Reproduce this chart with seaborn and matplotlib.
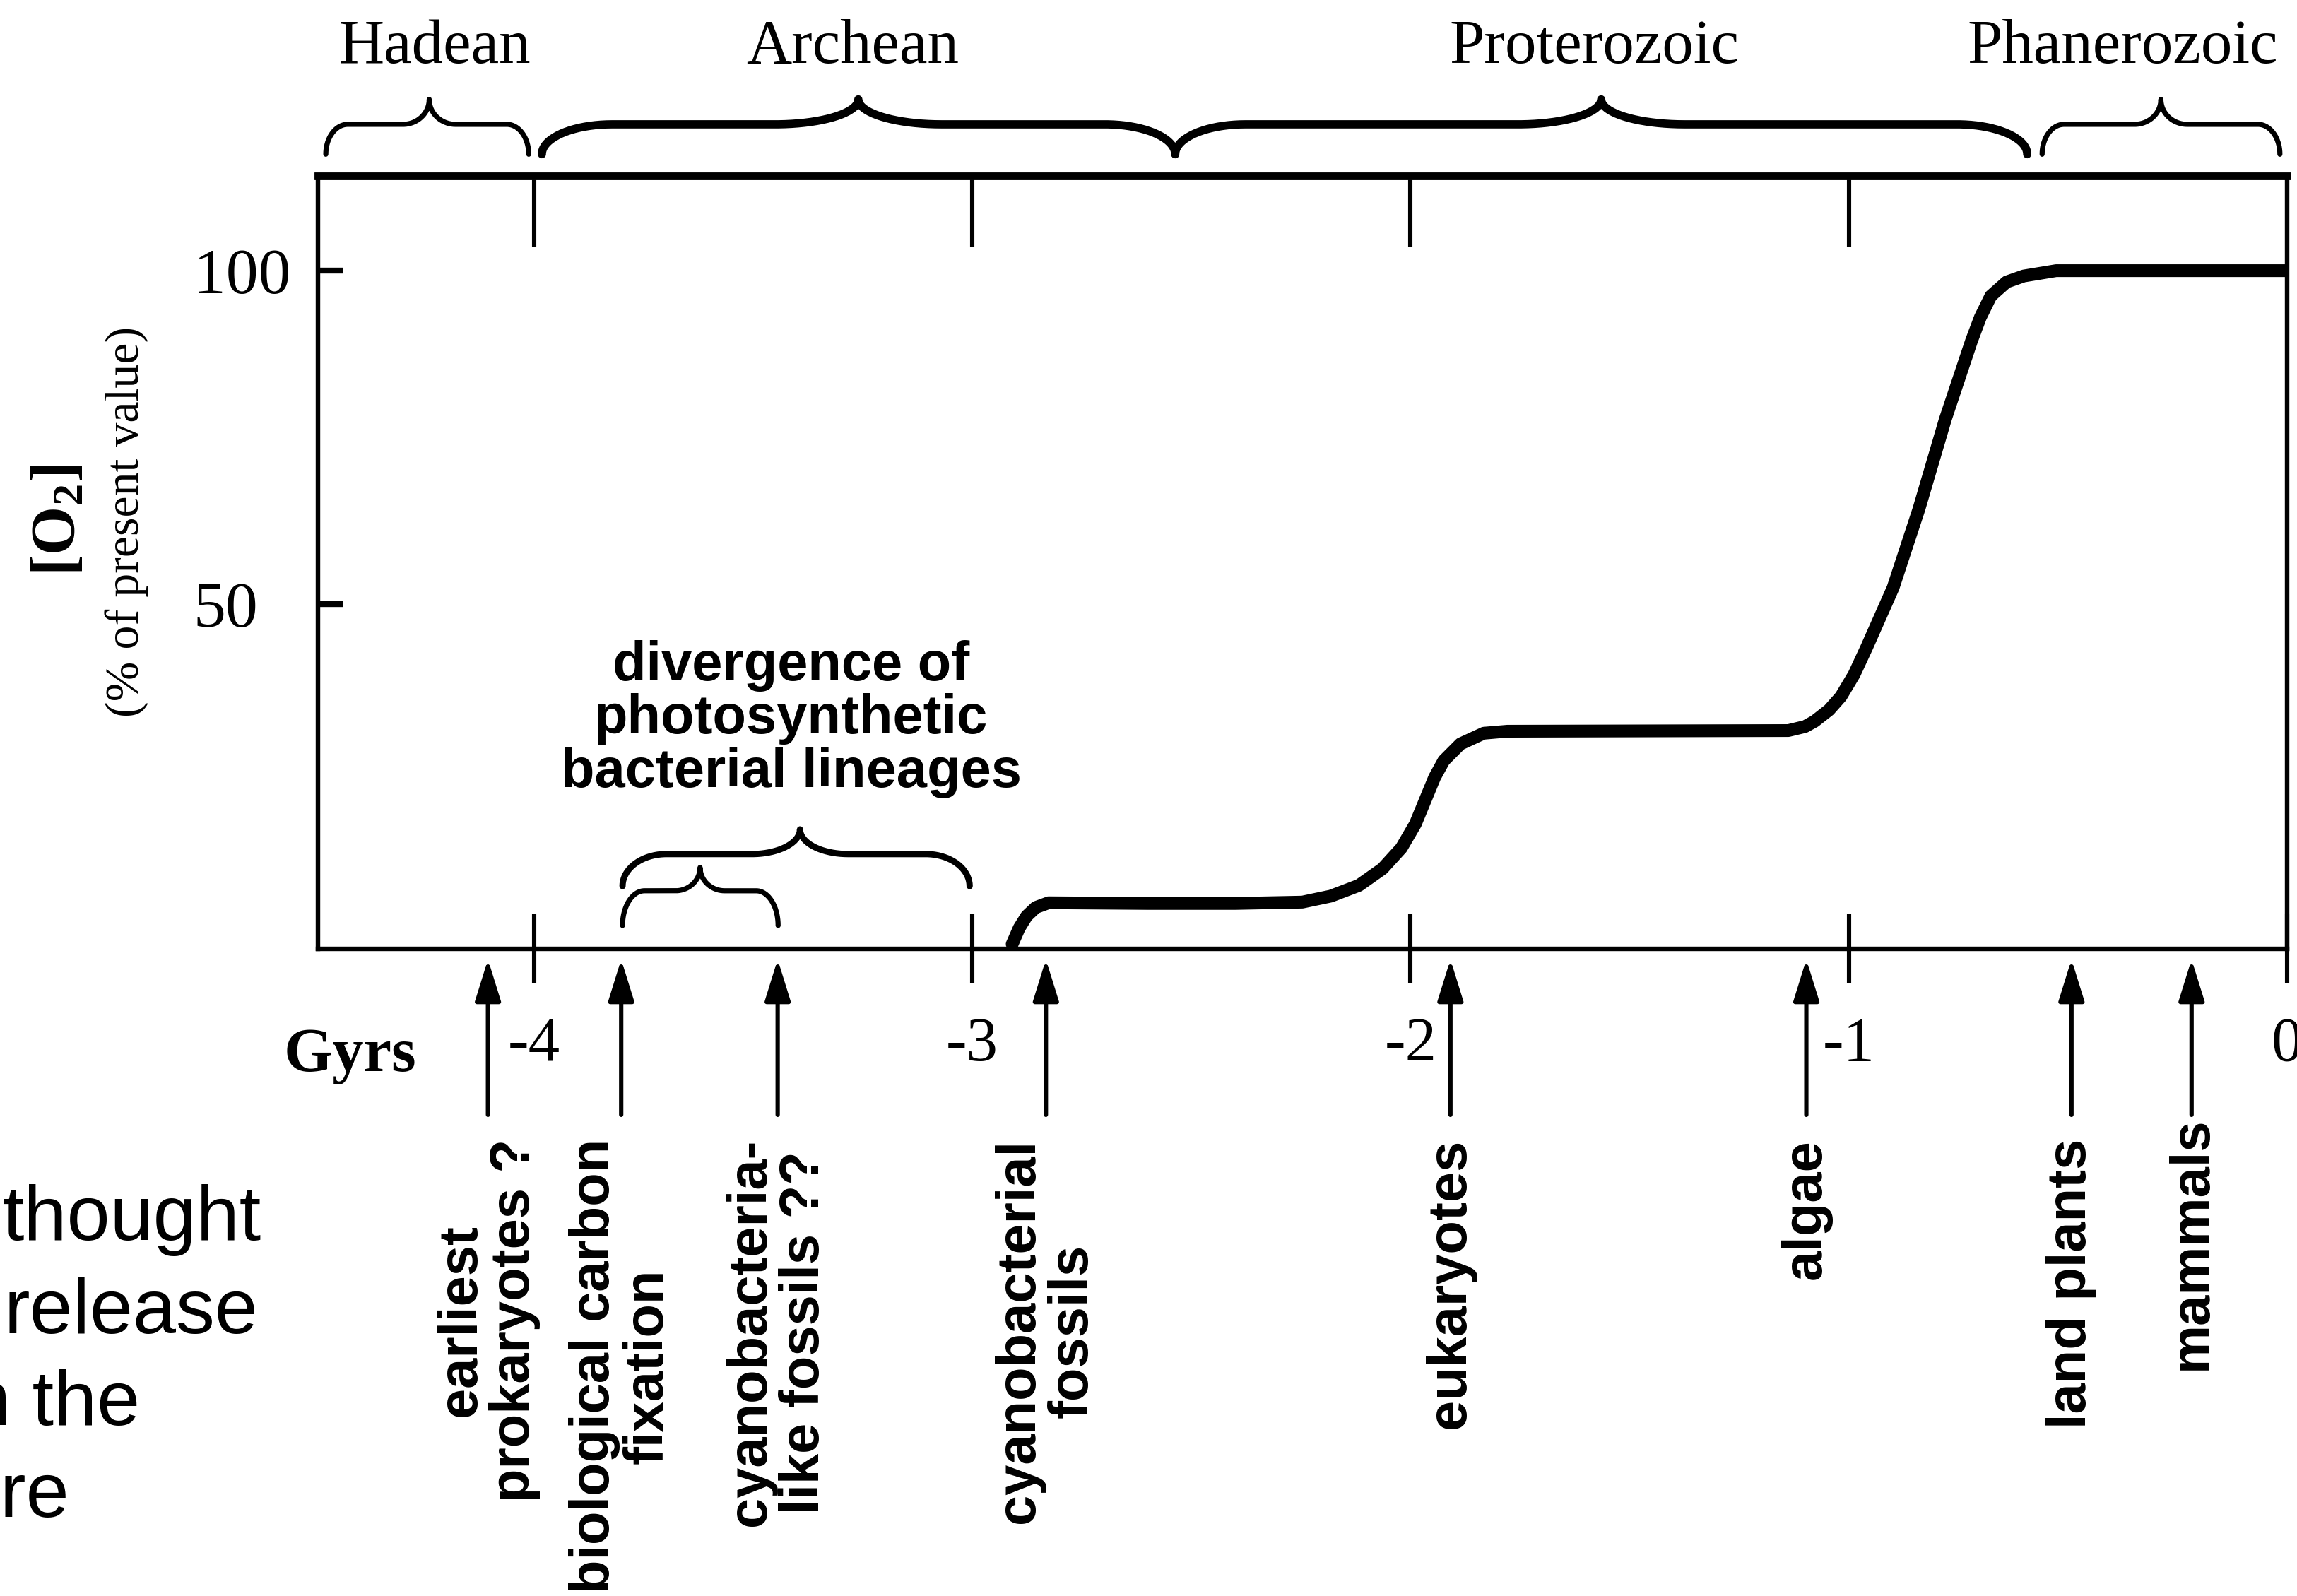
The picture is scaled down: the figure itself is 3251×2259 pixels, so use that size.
import numpy as np
import pandas as pd
import matplotlib
matplotlib.use("Agg")
import matplotlib.pyplot as plt
import matplotlib.transforms as mtransforms
import seaborn as sns

# O2 curve (Gyr before present, % of present value)
gyr = [-2.909, -2.893, -2.876, -2.855, -2.826, -2.6, -2.4, -2.247, -2.182, -2.118,
       -2.064, -2.021, -1.989, -1.967, -1.945, -1.924, -1.886, -1.833, -1.779,
       -1.138, -1.10, -1.078, -1.045, -1.018, -0.988, -0.959, -0.899, -0.840,
       -0.780, -0.720, -0.700, -0.676, -0.64, -0.601, -0.527, 0.0]
o2 = [-0.9, 1.5, 3.3, 4.6, 5.3, 5.2, 5.2, 5.4, 6.3, 7.9,
      10.4, 13.5, 17.1, 20.6, 24.1, 26.6, 29.1, 30.7, 31.0,
      31.1, 31.7, 32.5, 34.2, 36.2, 39.5, 43.6, 52.5, 64.3,
      77.7, 89.5, 93.0, 96.2, 98.3, 99.2, 100.0, 100.0]

# geological eons (start, end, brace point, label centre) in Gyr
era_names = ["Hadean", "Archean", "Proterozoic", "Phanerozoic"]
era_start = [-4.475, -3.982, -2.537, -0.559]
era_end = [-4.012, -2.537, -0.593, -0.0165]
era_peak = [-4.239, -3.26, -1.565, -0.288]
era_label_x = [-4.226, -3.273, -1.581, -0.375]

# events marked with arrows under the axis
event_labels = ["earliest\nprokaryotes ?", "biological carbon\nfixation",
                "cyanobacteria-\nlike fossils ??", "cyanobacterial\nfossils",
                "eukaryotes", "algae", "land plants", "mammals"]
event_gyr = [-4.105, -3.801, -3.444, -2.832, -1.909, -1.097, -0.492, -0.218]

# divergence of photosynthetic lineages (two nested ranges)
div_start = [-3.798, -3.798]
div_end = [-3.006, -3.443]
div_peak = [-3.393, -3.621]

tick_gyr = [-4, -3, -2, -1, 0]
tick_gyr_labels = ["-4", "-3", "-2", "-1", "0"]
tick_o2 = [50, 100]
tick_o2_labels = ["50", "100"]

slide_lines = ["thought", "release", "n the", "ere"]


def brace(ax, x0, x1, xc, yb, yf, yt, rx, rc, lw, transform):
    q = np.linspace(0, 1, 40) * np.pi / 2
    lx = x0 + rx * (1 - np.cos(q))
    ly = yb + (yf - yb) * np.sin(q)
    cx = xc - rc + rc * np.sin(q)
    cy = yf + (yt - yf) * (1 - np.cos(q))
    cx2 = xc + rc - rc * np.sin(q[::-1])
    cy2 = cy[::-1]
    rxs = x1 - rx * (1 - np.cos(q[::-1]))
    rys = ly[::-1]
    xs = np.concatenate([lx, cx, cx2, rxs])
    ys = np.concatenate([ly, cy, cy2, rys])
    ax.plot(xs, ys, color="black", lw=lw, transform=transform, clip_on=False,
            solid_capstyle="round", solid_joinstyle="round")


sns.set_theme(style="white")
plt.rcParams["font.family"] = ["Liberation Serif", "DejaVu Serif"]
plt.rcParams["text.color"] = "black"
plt.rcParams["axes.labelcolor"] = "black"
plt.rcParams["xtick.color"] = "black"
plt.rcParams["ytick.color"] = "black"
plt.rcParams["mathtext.fontset"] = "custom"
plt.rcParams["mathtext.rm"] = "Liberation Serif"
plt.rcParams["mathtext.bf"] = "Liberation Serif:bold"

fig = plt.figure(figsize=(3251 / 200, 2259 / 200), dpi=200)
fig.patch.set_facecolor("white")
ax = fig.add_axes([0.1384, 0.4055, 0.8573, 0.4843])

df = pd.DataFrame({"gyr": gyr, "o2": o2})
sns.lineplot(data=df, x="gyr", y="o2", ax=ax, color="black", linewidth=6.5,
             sort=False, estimator=None, solid_capstyle="round", solid_joinstyle="round")

ax.set_xlim(-4.493, 0)
ax.set_ylim(-1.6, 114.2)
ax.set_xlabel("")
ax.set_ylabel("")

for side in ["left", "right", "bottom"]:
    ax.spines[side].set_linewidth(2.3)
    ax.spines[side].set_color("black")
ax.spines["top"].set_linewidth(3.8)
ax.spines["top"].set_color("black")

ax.set_xticks(tick_gyr, labels=tick_gyr_labels)
ax.tick_params(axis="x", bottom=True, top=False, direction="inout", length=35,
               width=2.2, pad=17, labelsize=32, color="black", labelcolor="black")
ax.set_yticks(tick_o2, labels=tick_o2_labels)
ax.tick_params(axis="y", left=True, right=False, direction="in", length=13,
               width=3, pad=14, labelsize=33, color="black", labelcolor="black")

top = ax.secondary_xaxis("top")
top.set_xticks(tick_gyr[:-1], labels=[""] * 4)
top.xaxis.set_ticks_position("top")
top.tick_params(axis="x", top=True, direction="in", length=36, width=2.2, color="black")
top.spines["top"].set_linewidth(3.8)

xtr = ax.get_xaxis_transform()

# eon braces and names
for name, x0, x1, xc, lx in zip(era_names, era_start, era_end, era_peak, era_label_x):
    big = (x1 - x0) > 1
    brace(ax, x0, x1, xc, 1.028, 1.0667, 1.099,
          0.16 if big else 0.05, 0.19 if big else 0.06,
          4.2 if big else 2.6, xtr)
    ax.text(lx, 1.146, name, transform=xtr, ha="center", va="baseline", fontsize=32)

# divergence braces
brace(ax, div_start[0], div_end[0], div_peak[0], 7.8, 12.6, 16.3, 0.1, 0.11, 3.2, ax.transData)
brace(ax, div_start[1], div_end[1], div_peak[1], 1.9, 7.1, 10.6, 0.05, 0.056, 2.6, ax.transData)
ax.text(-3.413, 32.8, "divergence of\nphotosynthetic\nbacterial lineages",
        ha="center", va="center", family="Liberation Sans", weight="bold",
        fontsize=28, linespacing=1.05)

# event arrows and labels
for lab, g in zip(event_labels, event_gyr):
    ax.annotate("", xy=(g, -0.0137), xytext=(g, -0.2148), xycoords=xtr, textcoords=xtr,
                arrowprops=dict(arrowstyle="-|>,head_length=0.9,head_width=0.28",
                                mutation_scale=20, lw=2.2, color="black",
                                shrinkA=0, shrinkB=0),
                annotation_clip=False)
    y_top = -0.217 if lab == "mammals" else -0.2459
    ax.text(g, y_top, lab, transform=xtr, rotation=90, ha="center", va="top",
            multialignment="center", family="Liberation Sans", weight="bold",
            fontsize=28, linespacing=1.05)

ax.text(-4.42, -0.1578, "Gyrs", transform=xtr, ha="center", va="baseline",
        weight="bold", fontsize=32)

# the "50" label sits further left than "100" in the original
for tl in ax.get_yticklabels():
    if tl.get_text() == "50":
        tl.set_transform(tl.get_transform()
                         + mtransforms.ScaledTranslation(-46 / 200, 0, fig.dpi_scale_trans))

fig.text(0.0255, 0.6742, r"$\mathbf{[O_2]}$", rotation=90, ha="center", va="center",
         fontsize=32)
fig.text(0.0554, 0.6729, "(% of present value)", rotation=90, ha="center", va="center",
         fontsize=24.5)

# cut-off slide text on the left
for s, x, y in zip(slide_lines, [0.1138, 0.1123, 0.0609, 0.0301],
                   [0.2231, 0.1646, 0.1071, 0.0496]):
    fig.text(x, y, s, ha="right", va="baseline", family="Liberation Sans", fontsize=39.5)

fig.savefig("out.png", dpi=200, facecolor="white")
